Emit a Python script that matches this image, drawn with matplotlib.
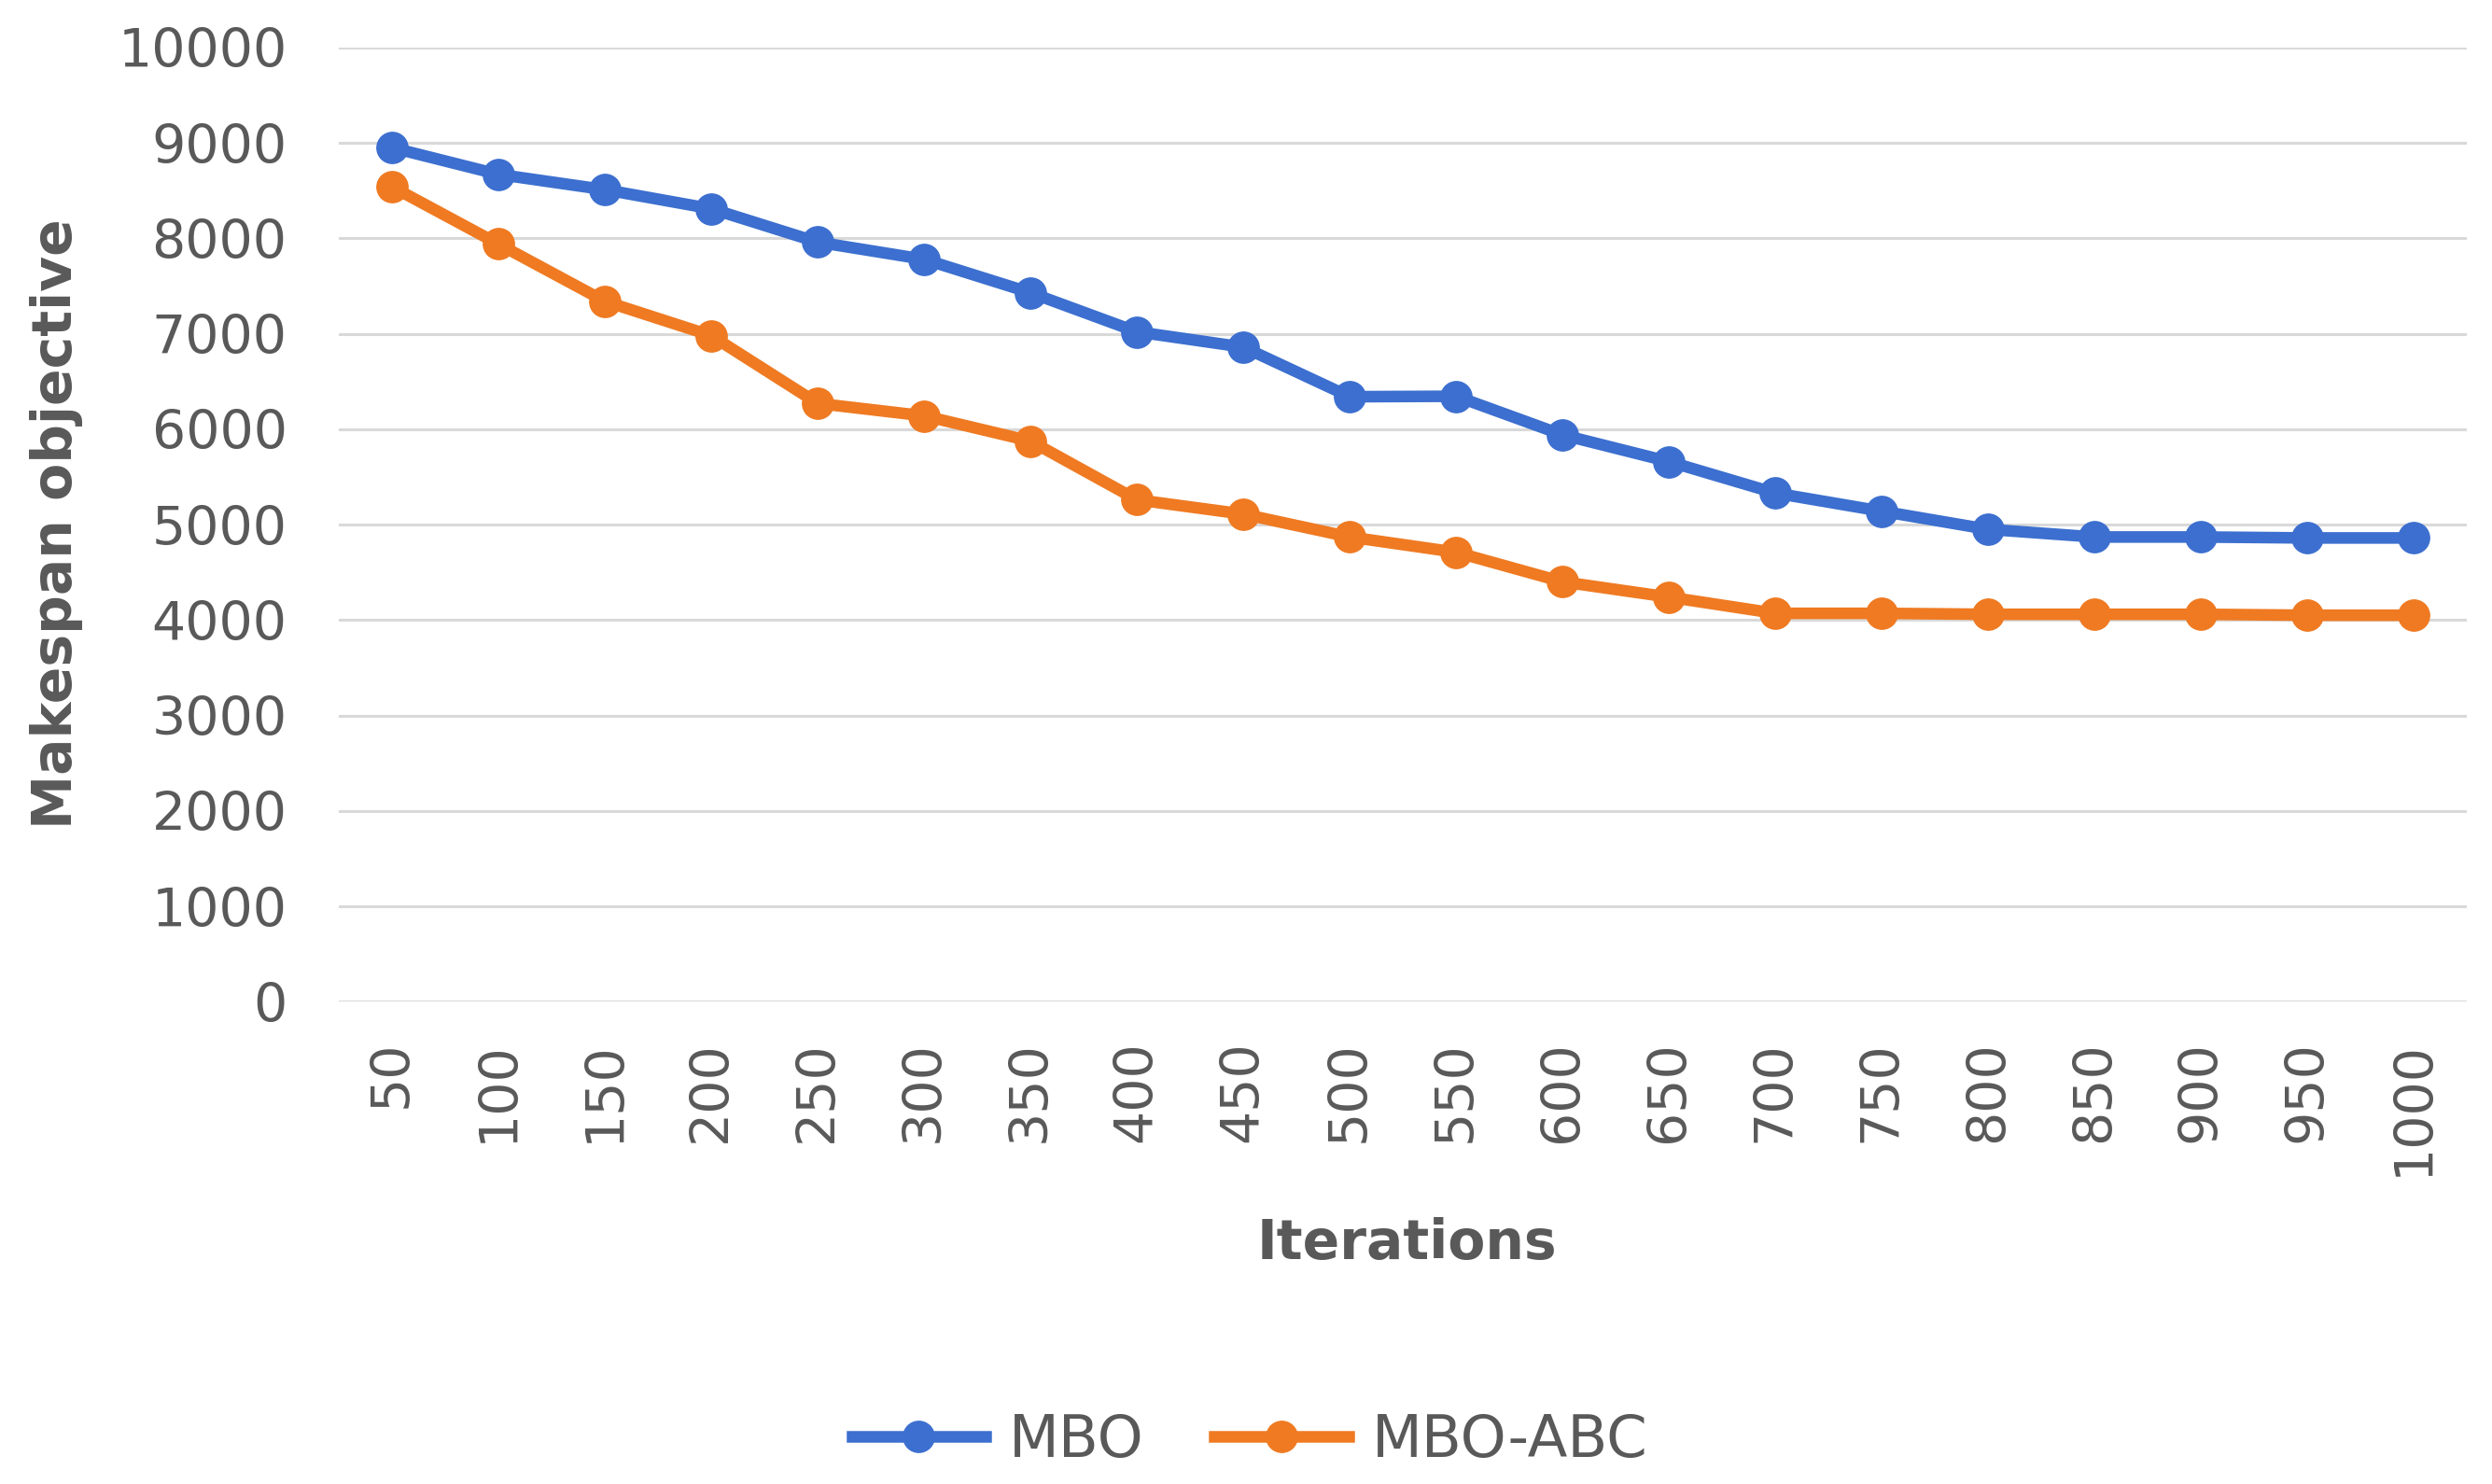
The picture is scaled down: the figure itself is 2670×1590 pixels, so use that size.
import matplotlib
matplotlib.use("Agg")
import matplotlib.pyplot as plt

iterations = ["50", "100", "150", "200", "250", "300", "350", "400", "450", "500",
              "550", "600", "650", "700", "750", "800", "850", "900", "950", "1000"]
mbo = [8950, 8670, 8510, 8310, 7960, 7780, 7430, 7020, 6860, 6340,
       6345, 5940, 5660, 5330, 5140, 4950, 4870, 4870, 4860, 4860]
mbo_abc = [8540, 7940, 7340, 6980, 6270, 6140, 5875, 5260, 5110, 4870,
           4710, 4400, 4240, 4070, 4070, 4060, 4060, 4060, 4050, 4050]
yticks = [0, 1000, 2000, 3000, 4000, 5000, 6000, 7000, 8000, 9000, 10000]

blue = "#3C6FCF"
orange = "#EF7A22"
txt = "#595959"

fig = plt.figure(figsize=(26.7, 15.9), dpi=100)
ax = fig.add_axes([0.136, 0.325, 0.854, 0.643])

x = list(range(len(iterations)))
ax.plot(x, mbo, color=blue, lw=9, marker="o", ms=24, label="MBO", zorder=3)
ax.plot(x, mbo_abc, color=orange, lw=9, marker="o", ms=24, label="MBO-ABC", zorder=3)

ax.set_xlim(-0.5, len(iterations) - 0.5)
ax.set_ylim(0, 10000)
ax.set_yticks(yticks)
ax.set_yticklabels([str(v) for v in yticks])
ax.set_xticks(x)
ax.set_xticklabels(iterations, rotation=90)
ax.tick_params(axis="y", length=0, pad=40, labelsize=41, labelcolor=txt)
ax.tick_params(axis="x", length=0, pad=30, labelsize=41, labelcolor=txt)
ax.grid(axis="y", color="#d9d9d9", lw=2.2, zorder=0)
ax.set_axisbelow(True)
for s in ax.spines.values():
    s.set_visible(False)

fig.text(0.5644, 0.162, "Iterations", ha="center", va="center", fontsize=42,
         fontweight="bold", color=txt)
fig.text(0.0225, 0.647, "Makespan objective", ha="center", va="center", rotation=90,
         fontsize=42, fontweight="bold", color=txt)

leg = fig.legend(loc="center", bbox_to_anchor=(0.5015, 0.029), ncol=2, frameon=False,
                 fontsize=45, handlelength=2.3, columnspacing=1.2, handletextpad=0.4)
for t in leg.get_texts():
    t.set_color(txt)

fig.savefig("out.png", dpi=100, facecolor="white")
